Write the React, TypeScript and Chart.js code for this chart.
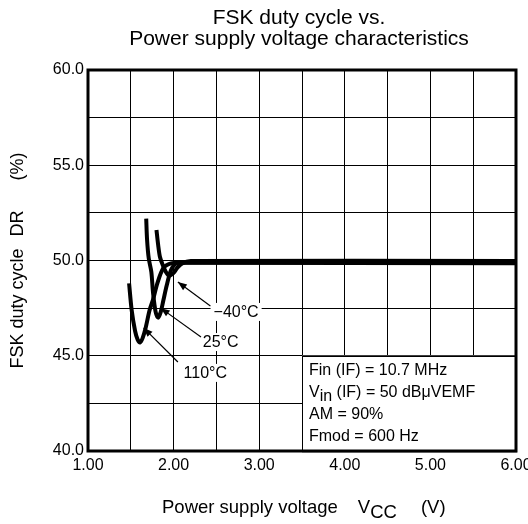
import React, { useEffect, useRef } from 'react';
import { Chart, registerables } from 'chart.js';

Chart.register(...registerables);

// ---- Data ----
const xTicksMin = 1.0;
const xTicksMax = 6.0;
const yTicksMin = 40.0;
const yTicksMax = 60.0;

const seriesNames = ['−40°C', '25°C', '110°C'];

const vccMinus40 = [1.80, 1.82, 1.84, 1.87, 1.91, 1.95, 2.00, 2.04, 2.10, 2.20, 6.00];
const drMinus40 = [51.6, 50.8, 50.2, 49.8, 49.4, 49.2, 49.35, 49.6, 49.85, 49.97, 49.97];

const vcc25 = [1.68, 1.69, 1.71, 1.74, 1.76, 1.79, 1.82, 1.85, 1.88, 1.92, 1.97, 2.03, 2.12, 6.00];
const dr25 = [52.2, 51.1, 50.1, 49.4, 48.3, 47.3, 47.0, 47.3, 47.9, 48.7, 49.5, 49.85, 49.9, 49.9];

const vcc110 = [1.48, 1.51, 1.55, 1.58, 1.61, 1.64, 1.67, 1.72, 1.76, 1.81, 1.88, 1.97, 2.08, 6.00];
const dr110 = [48.8, 47.4, 46.3, 45.85, 45.7, 45.95, 46.4, 47.4, 47.95, 48.8, 49.6, 49.85, 49.88, 49.85];

// label anchors (data coords): label centre, pointer start, pointer tip
const labelX = [2.73, 2.55, 2.37];
const labelY = [47.3, 45.72, 44.1];
const pointerFromX = [2.43, 2.32, 2.05];
const pointerFromY = [47.61, 45.98, 44.67];
const pointerToX = [2.05, 1.85, 1.65];
const pointerToY = [48.87, 47.5, 46.46];

const titleLines = ['FSK duty cycle vs.', 'Power supply voltage characteristics'];
const conditionBox = { x0: 3.5, x1: 6.0, y0: 40.0, y1: 45.0 };
const conditionLines = [
  [{ t: 'Fin (IF) = 10.7 MHz' }],
  [{ t: 'V' }, { t: 'in', sub: true }, { t: ' (IF) = 50 dBμVEMF' }],
  [{ t: 'AM = 90%' }],
  [{ t: 'Fmod = 600 Hz' }],
];

const FONT = '"Liberation Sans", Arial, Helvetica, sans-serif';

const toPoints = (xs: number[], ys: number[]) => xs.map((x, i) => ({ x, y: ys[i] }));

const overlayPlugin = {
  id: 'overlay',
  beforeDatasetsDraw(chart: any) {
    const { ctx, scales } = chart;
    const xs = scales.x;
    const ys = scales.y;
    ctx.save();
    // condition box
    const bx0 = xs.getPixelForValue(conditionBox.x0);
    const bx1 = xs.getPixelForValue(conditionBox.x1);
    const by0 = ys.getPixelForValue(conditionBox.y1);
    const by1 = ys.getPixelForValue(conditionBox.y0);
    ctx.fillStyle = '#fff';
    ctx.fillRect(bx0, by0, bx1 - bx0, by1 - by0);
    ctx.strokeStyle = '#000';
    ctx.lineWidth = 1;
    ctx.strokeRect(Math.round(bx0) + 0.5, Math.round(by0) + 0.5, bx1 - bx0, by1 - by0);
    ctx.fillStyle = '#000';
    ctx.textBaseline = 'middle';
    ctx.textAlign = 'left';
    const rowH = 22;
    conditionLines.forEach((parts, i) => {
      let x = bx0 + 7;
      const y = by0 + 15 + i * rowH;
      parts.forEach((p: any) => {
        ctx.font = `16px ${FONT}`;
        ctx.fillText(p.t, x, p.sub ? y + 4 : y);
        x += ctx.measureText(p.t).width;
      });
    });

    // temperature labels + pointers
    ctx.font = `16px ${FONT}`;
    seriesNames.forEach((name, i) => {
      const lx = xs.getPixelForValue(labelX[i]);
      const ly = ys.getPixelForValue(labelY[i]);
      const w = ctx.measureText(name).width;
      ctx.fillStyle = '#fff';
      ctx.fillRect(lx - w / 2 - 3, ly - 9, w + 6, 18);
      ctx.fillStyle = '#000';
      ctx.textAlign = 'center';
      ctx.fillText(name, lx, ly + 1);

      const fx = xs.getPixelForValue(pointerFromX[i]);
      const fy = ys.getPixelForValue(pointerFromY[i]);
      const tx = xs.getPixelForValue(pointerToX[i]);
      const ty = ys.getPixelForValue(pointerToY[i]);
      ctx.strokeStyle = '#000';
      ctx.lineWidth = 1.2;
      ctx.beginPath();
      ctx.moveTo(fx, fy);
      ctx.lineTo(tx, ty);
      ctx.stroke();
      const ang = Math.atan2(ty - fy, tx - fx);
      const L = 9, W = 3.5;
      ctx.beginPath();
      ctx.moveTo(tx, ty);
      ctx.lineTo(tx - L * Math.cos(ang) + W * Math.sin(ang), ty - L * Math.sin(ang) - W * Math.cos(ang));
      ctx.lineTo(tx - L * Math.cos(ang) - W * Math.sin(ang), ty - L * Math.sin(ang) + W * Math.cos(ang));
      ctx.closePath();
      ctx.fill();
    });
    ctx.restore();
  },
  afterDraw(chart: any) {
    const { ctx, chartArea } = chart;
    ctx.save();
    // frame
    ctx.strokeStyle = '#000';
    ctx.lineWidth = 3;
    ctx.strokeRect(chartArea.left, chartArea.top, chartArea.right - chartArea.left, chartArea.bottom - chartArea.top);

    const cx = (chartArea.left + chartArea.right) / 2;
    ctx.fillStyle = '#000';
    ctx.textAlign = 'center';
    ctx.textBaseline = 'middle';
    ctx.font = `21px ${FONT}`;
    ctx.fillText(titleLines[0], cx - 3, 18);
    ctx.fillText(titleLines[1], cx - 3, 39);

    // x axis title
    ctx.font = `18.5px ${FONT}`;
    ctx.textAlign = 'left';
    const xParts = [
      { t: 'Power supply voltage', gap: 20, dy: 0 },
      { t: 'V', gap: 0, dy: 0 },
      { t: 'CC', gap: 24, dy: 5 },
      { t: '(V)', gap: 0, dy: 0 },
    ];
    let total = 0;
    let x = 162;
    const y = 508;
    xParts.forEach((p) => {
      ctx.fillText(p.t, x, y + p.dy);
      x += ctx.measureText(p.t).width + p.gap;
    });

    // y axis title (rotated)
    ctx.font = `18px ${FONT}`;
    const cy = (chartArea.top + chartArea.bottom) / 2;
    ctx.translate(18, cy);
    ctx.rotate(-Math.PI / 2);
    const yParts = [
      { t: 'FSK duty cycle', gap: 12 },
      { t: 'DR', gap: 30 },
      { t: '(%)', gap: 0 },
    ];
    total = 0;
    yParts.forEach((p) => (total += ctx.measureText(p.t).width + p.gap));
    let yy = -total / 2;
    yParts.forEach((p) => {
      ctx.fillText(p.t, yy, 0);
      yy += ctx.measureText(p.t).width + p.gap;
    });
    ctx.restore();
  },
};

export default function App() {
  const ref = useRef<HTMLCanvasElement | null>(null);
  useEffect(() => {
    if (!ref.current) return;
    const lineStyle = {
      borderColor: '#000',
      backgroundColor: '#000',
      borderWidth: 4,
      pointRadius: 0,
      tension: 0.3,
      fill: false,
    };
    const chart = new Chart(ref.current, {
      type: 'line',
      data: {
        datasets: [
          { label: seriesNames[0], data: toPoints(vccMinus40, drMinus40), ...lineStyle },
          { label: seriesNames[1], data: toPoints(vcc25, dr25), ...lineStyle },
          { label: seriesNames[2], data: toPoints(vcc110, dr110), ...lineStyle },
        ],
      },
      options: {
        animation: false,
        responsive: false,
        layout: { padding: { left: 0, right: 12, top: 70, bottom: 0 } },
        plugins: { legend: { display: false }, title: { display: false }, tooltip: { enabled: false } },
        scales: {
          x: {
            type: 'linear',
            min: xTicksMin,
            max: xTicksMax,
            border: { display: false },
            grid: { color: '#000', lineWidth: 1, drawTicks: false },
            ticks: {
              stepSize: 0.5,
              autoSkip: false,
              maxRotation: 0,
              padding: 5,
              color: '#000',
              font: { family: FONT, size: 16 },
              callback: (v: any) => (Math.abs(v - Math.round(v)) < 1e-6 ? Number(v).toFixed(2) : ''),
            },
            afterFit: (s: any) => {
              s.height = 73;
              s.paddingLeft = 0;
              s.paddingRight = 0;
            },
          },
          y: {
            type: 'linear',
            min: yTicksMin,
            max: yTicksMax,
            border: { display: false },
            grid: { color: '#000', lineWidth: 1, drawTicks: false },
            ticks: {
              stepSize: 2.5,
              autoSkip: false,
              padding: 4,
              color: '#000',
              font: { family: FONT, size: 16 },
              callback: (v: any) => (Math.abs(v % 5) < 1e-6 ? Number(v).toFixed(1) : ''),
            },
            afterFit: (s: any) => {
              s.width = 88;
              s.paddingTop = 0;
              s.paddingBottom = 0;
            },
          },
        },
      },
      plugins: [overlayPlugin],
    });
    return () => chart.destroy();
  }, []);
  return (
    <div style={{ position: 'fixed', left: 0, top: 0, width: 528, height: 524, background: '#fff' }}>
      <canvas ref={ref} width={528} height={524} style={{ width: 528, height: 524 }} />
    </div>
  );
}
